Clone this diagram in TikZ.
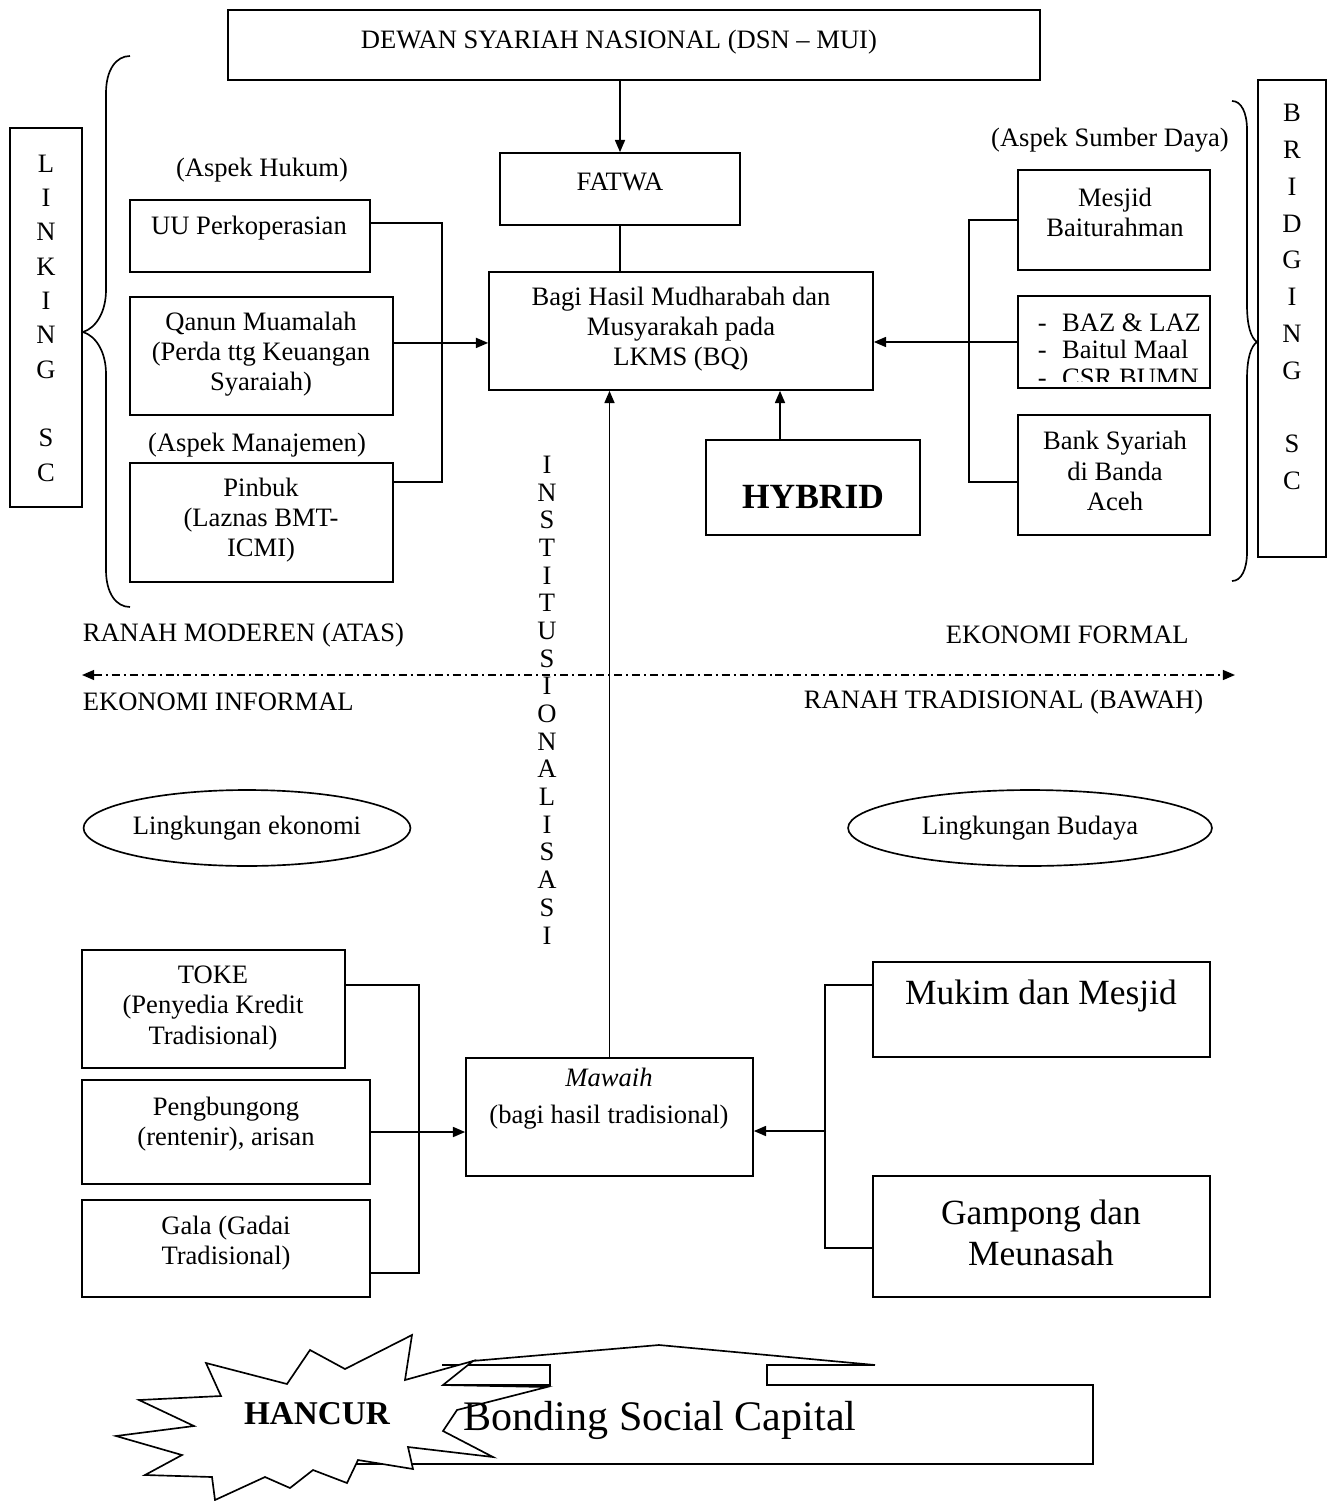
\documentclass[tikz,border=0pt]{standalone}
\usepackage{fontspec}
\setmainfont{Liberation Serif}
\usetikzlibrary{arrows.meta,fit,shapes.geometric,calc}
\begin{document}
\begin{tikzpicture}[x=0.4515pt,y=-0.4515pt,line width=0.75pt,
  box/.style={draw,rectangle,inner sep=0pt},
  txt/.style={align=center,inner sep=0pt,font=\fontsize{12}{13.6}\selectfont},
  bigtxt/.style={align=center,inner sep=0pt,font=\fontsize{16}{18.4}\selectfont},
  arr/.style={-{Triangle[length=5.5pt,width=4.5pt]}},
  axisline/.style={dash pattern=on 3.6pt off 1.8pt on 0.9pt off 1.8pt,
    {Triangle[length=5.5pt,width=4.5pt]}-{Triangle[length=5.5pt,width=4.5pt]}},
  oval/.style={draw,ellipse,inner sep=0pt,align=center,font=\fontsize{12}{13.6}\selectfont}]
\useasboundingbox (0,0) rectangle (1328,1501);

% ---------- top: DSN and fatwa ----------
\node[box,fit={(228,10) (1040,80)}] (dsn) {};
\node[txt] (dsn-t) at (619,42) {DEWAN SYARIAH NASIONAL (DSN -- MUI)};
\node[box,fit={(500,153) (740,225)}] (fatwa) {};
\node[txt] (fatwa-t) at (620,182) {FATWA};
\node[box,fit={(489,272) (873,390)}] (bagi) {};
\node[txt] (bagi-t) at (681,329) {Bagi Hasil Mudharabah dan\\Musyarakah pada\\LKMS (BQ)};

\draw[arr] (dsn.south -| fatwa.north) -- (fatwa.north);
\draw (fatwa.south) -- (fatwa.south |- bagi.north);

% ---------- left: legal and management aspects ----------
\node[txt] (hukum) at (262,170) {(Aspek Hukum)};
\node[box,fit={(130,200) (370,272)}] (uu) {};
\node[txt] (uu-t) at (249,228) {UU Perkoperasian};
\node[box,fit={(130,297) (393,415)}] (qanun) {};
\node[txt] (qanun-t) at (261,354) {Qanun Muamalah\\(Perda ttg Keuangan\\Syaraiah)};
\node[txt] (manaj) at (257,445) {(Aspek Manajemen)};
\node[box,fit={(130,463) (393,582)}] (pinbuk) {};
\node[txt] (pinbuk-t) at (261,520) {Pinbuk\\(Laznas BMT-\\ICMI)};

\draw ([yshift=5.9pt]uu.east) -- ++(71,0) |- ([yshift=18.3pt]pinbuk.east);
\draw[arr] ([yshift=5.9pt]qanun.east) coordinate (qe) -- (qe -| bagi.west);

% Linking SC
\node[box,fit={(10,128) (82,507)}] (linking) {};
\node[inner sep=0pt,align=center,font=\fontsize{12}{15.5}\selectfont] (linking-t) at (46,318)
  {L\\I\\N\\K\\I\\N\\G\\[15.5pt]S\\C};
\draw (130,56) .. controls (116,56) and (106,70) .. (106,93) -- (106,290)
  .. controls (106,312) and (96,328) .. (83,332)
  .. controls (96,336) and (106,352) .. (106,374) -- (106,570)
  .. controls (106,593) and (116,607) .. (130,607);

% ---------- right: resource aspects ----------
\node[txt] (sumber) at (1110,140) {(Aspek Sumber Daya)};
\node[box,fit={(1018,170) (1210,270)}] (mesjid) {};
\node[txt] (mesjid-t) at (1115,212) {Mesjid\\Baiturahman};
\node[box,fit={(1018,296) (1210,388)}] (baz) {};
\begin{scope}
  \clip (1018,296) rectangle (1210,381);
  \node[inner sep=0pt,anchor=west,align=left,font=\fontsize{12}{12.4}\selectfont] (baz-t) at (1037,350)
    {\makebox[11pt][l]{-}BAZ \& LAZ\\\makebox[11pt][l]{-}Baitul Maal\\\makebox[11pt][l]{-}CSR BUMN};
\end{scope}
\node[box,fit={(1018,415) (1210,535)}] (bank) {};
\node[txt] (bank-t) at (1115,471) {Bank Syariah\\di Banda\\Aceh};

\draw (mesjid.west) -- ++(-48,0) |- ([yshift=-3.2pt]bank.west);
\draw[arr] (baz.west) -- (baz.west -| bagi.east);

\node[box,fit={(706,440) (920,535)}] (hybrid) {};
\node[inner sep=0pt,font=\bfseries\fontsize{16}{18}\selectfont] (hybrid-t) at (813,497) {HYBRID};
\draw[arr] ([xshift=-14.9pt]hybrid.north) coordinate (hn) -- (hn |- bagi.south);

% Bridging SC
\node[box,fit={(1258,80) (1326,557)}] (bridging) {};
\node[inner sep=0pt,align=center,font=\fontsize{12}{16.6}\selectfont] (bridging-t) at (1292,297)
  {B\\R\\I\\D\\G\\I\\N\\G\\[16.6pt]S\\C};
\draw (1232,101) .. controls (1241,101) and (1247,112) .. (1247,130) -- (1247,305)
  .. controls (1247,326) and (1251,338) .. (1257,342)
  .. controls (1251,346) and (1247,358) .. (1247,379) -- (1247,552)
  .. controls (1247,570) and (1241,581) .. (1232,581);

% ---------- institutionalisation axis ----------
\node[inner sep=0pt,align=center,font=\fontsize{12}{12.5}\selectfont] (inst) at (547,700)
  {I\\N\\S\\T\\I\\T\\U\\S\\I\\O\\N\\A\\L\\I\\S\\A\\S\\I};

% ---------- modern / traditional divide ----------
\node[txt,anchor=west] (ranah-atas) at (82,635) {RANAH MODEREN (ATAS)};
\node[txt,anchor=west] (eko-formal) at (945,635) {EKONOMI FORMAL};
\node[txt,anchor=west] (eko-informal) at (82,702) {EKONOMI INFORMAL};
\node[txt,anchor=west] (ranah-bawah) at (803,702) {RANAH TRADISIONAL (BAWAH)};
\coordinate (axl) at (82,675);
\coordinate (axr) at (1235,675);
\draw[axisline] (axl) -- (axr);

\node[oval,minimum width=147.6pt,minimum height=34.3pt] (ling-eko) at (247,828) {Lingkungan ekonomi};
\node[oval,minimum width=164.3pt,minimum height=34.3pt] (ling-bud) at (1030,828) {Lingkungan Budaya};

% ---------- lower left: traditional credit ----------
\node[box,fit={(82,950) (345,1068)}] (toke) {};
\node[txt] (toke-t) at (213,1008) {TOKE\\(Penyedia Kredit\\Tradisional)};
\node[box,fit={(82,1080) (370,1184)}] (peng) {};
\node[txt] (peng-t) at (226,1124) {Pengbungong\\(rentenir), arisan};
\node[box,fit={(82,1200) (370,1297)}] (gala) {};
\node[txt] (gala-t) at (226,1243) {Gala (Gadai\\Tradisional)};

\node[box,fit={(466,1058) (753,1176)}] (mawaih) {};
\node[txt] (mawaih-t) at (609,1099) {\textit{Mawaih}\\[3pt](bagi hasil tradisional)};

\draw ([yshift=10.8pt]toke.east) -- ++(73,0) |- ([yshift=-11.1pt]gala.east);
\draw[arr] (peng.east) -- (peng.east -| mawaih.west);
\draw[arr] (mawaih.north) -- (mawaih.north |- bagi.south);

% ---------- lower right: customary institutions ----------
\node[box,fit={(873,962) (1210,1057)}] (mukim) {};
\node[bigtxt] (mukim-t) at (1041,996) {Mukim dan Mesjid};
\node[box,fit={(873,1176) (1210,1297)}] (gampong) {};
\node[bigtxt] (gampong-t) at (1041,1233) {Gampong dan\\Meunasah};

\draw ([yshift=11.1pt]mukim.west) -- ++(-47,0) |- ([yshift=-5.2pt]gampong.west);
\coordinate (rj) at (826,1131);
\draw[arr] (rj) -- (rj -| mawaih.east);

% ---------- bonding social capital scroll ----------
\draw (875,1365) -- (659,1345) -- (472,1361);
\draw (442,1365) -- (550,1365) -- (550,1385) -- (444,1385);
\draw (875,1365) -- (767,1365) -- (767,1385) -- (1093,1385) -- (1093,1464) -- (340,1464);

% explosion
\draw[fill=white,line join=miter] (206,1363) -- (221,1396) -- (139,1400) -- (194,1426) -- (116,1436)
  -- (182,1455) -- (145,1475) -- (212,1477) -- (215,1500) -- (265,1477) -- (290,1488)
  -- (313,1470) -- (347,1483) -- (358,1460) -- (413,1469) -- (408,1447) -- (493,1457)
  -- (443,1431) -- (457,1410) -- (547,1387) -- (443,1385) -- (473,1361) -- (405,1380)
  -- (412,1335) -- (345,1369) -- (310,1350) -- (287,1384) -- cycle;

\node[inner sep=0pt,font=\fontsize{19}{22}\selectfont] (bonding) at (660,1420) {Bonding Social Capital};
\node[inner sep=0pt,font=\bfseries\fontsize{15}{17}\selectfont] (hancur) at (317,1414) {HANCUR};
\end{tikzpicture}
\end{document}
